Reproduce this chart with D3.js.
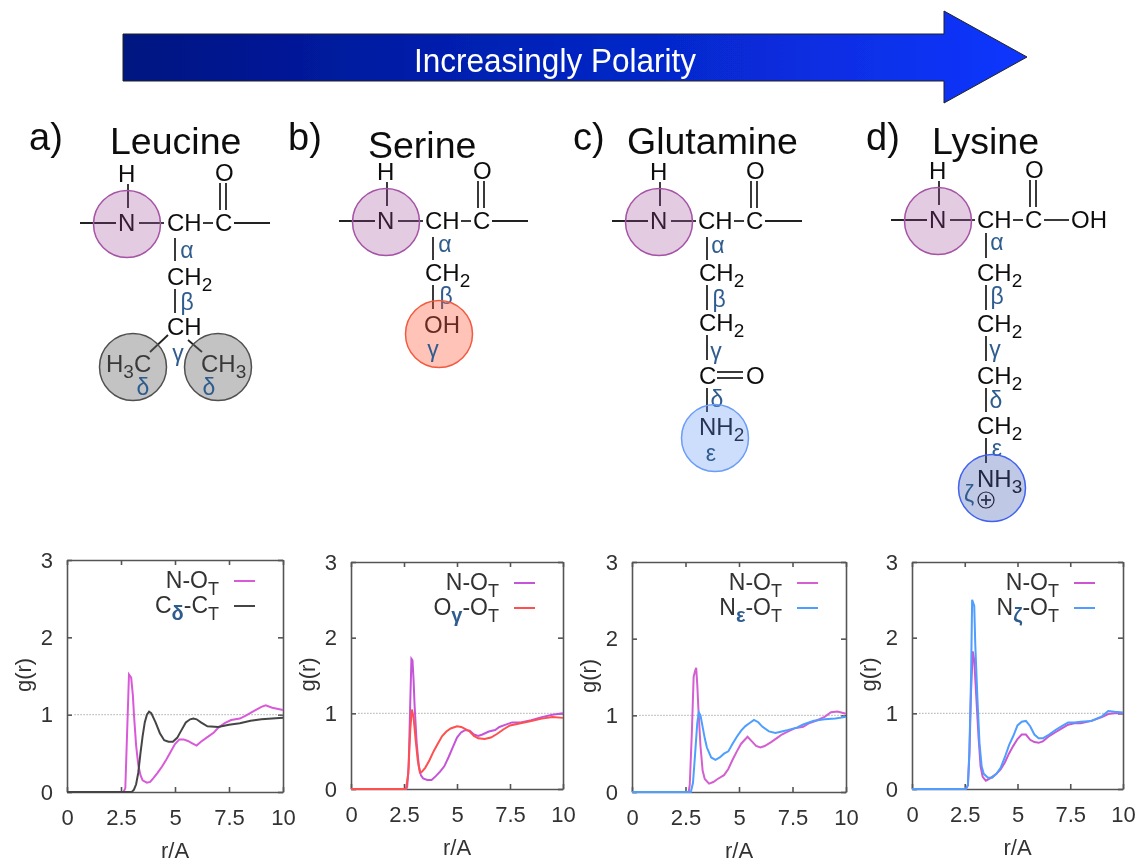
<!DOCTYPE html>
<html>
<head>
<meta charset="utf-8">
<script src="https://cdnjs.cloudflare.com/ajax/libs/d3/7.8.5/d3.min.js"></script>
<style>
html, body { margin: 0; padding: 0; background: #fff; }
text { font-family: "Liberation Sans", Arial, sans-serif; }
</style>
</head>
<body>
<svg id="fig" width="1143" height="864"></svg>
<script>
// g(r) curves, [r, g]
var leucineNOT = [[0,0],[2.62,0],[2.7,.05],[2.87,1.52],[2.97,1.48],[3.05,1.25],[3.1,1],[3.2,.6],[3.3,.35],[3.4,.22],[3.5,.15],[3.7,.12],[3.85,.13],[4,.18],[4.2,.25],[4.4,.33],[4.6,.42],[4.8,.52],[5,.62],[5.2,.68],[5.4,.68],[5.6,.66],[5.8,.63],[6,.6],[6.2,.65],[6.5,.71],[6.8,.77],[7,.83],[7.3,.89],[7.6,.93],[8,.95],[8.3,.99],[8.6,1.04],[9,1.1],[9.2,1.12],[9.5,1.09],[10,1.06]];
var leucineCC = [[0,0],[3,0],[3.1,.03],[3.2,.1],[3.3,.25],[3.4,.5],[3.5,.72],[3.6,.9],[3.7,1],[3.8,1.04],[3.9,1.02],[4.1,.9],[4.3,.76],[4.5,.67],[4.7,.65],[4.9,.65],[5.1,.7],[5.3,.8],[5.5,.9],[5.7,.94],[5.85,.95],[6,.94],[6.2,.9],[6.5,.85],[7,.84],[7.5,.87],[8,.89],[8.5,.92],[9,.94],[9.5,.95],[10,.96]];
var serineNOT = [[0,0],[2.6,0],[2.65,.03],[2.72,.3],[2.8,1.2],[2.85,1.72],[2.9,1.7],[2.95,1.45],[3,1.1],[3.1,.6],[3.2,.3],[3.3,.18],[3.4,.14],[3.6,.12],[3.8,.12],[4,.17],[4.2,.23],[4.4,.3],[4.6,.42],[4.8,.55],[5,.68],[5.2,.75],[5.4,.78],[5.6,.77],[5.8,.72],[6,.7],[6.2,.72],[6.5,.76],[6.8,.78],[7,.82],[7.3,.85],[7.6,.88],[8,.88],[8.5,.91],[9,.95],[9.5,.98],[10,1]];
var serineOO = [[0,0],[2.55,0],[2.6,.01],[2.7,.2],[2.8,.8],[2.87,1.05],[2.95,.95],[3.05,.65],[3.15,.38],[3.25,.22],[3.35,.23],[3.5,.28],[3.7,.38],[3.9,.5],[4.1,.6],[4.3,.7],[4.5,.76],[4.7,.8],[5,.83],[5.2,.82],[5.4,.79],[5.6,.76],[5.8,.7],[6,.67],[6.3,.66],[6.6,.68],[6.9,.73],[7.2,.79],[7.5,.84],[8,.87],[8.5,.9],[9,.93],[9.5,.95],[10,.94]];
var glutamineNOT = [[0,0],[2.65,0],[2.7,.1],[2.8,.8],[2.88,1.5],[2.95,1.58],[3,1.62],[3.05,1.4],[3.1,1.1],[3.2,.6],[3.3,.28],[3.4,.17],[3.6,.11],[3.8,.13],[4,.17],[4.3,.22],[4.5,.3],[4.7,.42],[4.9,.53],[5.1,.63],[5.4,.72],[5.6,.66],[5.8,.6],[6,.58],[6.2,.6],[6.5,.65],[6.8,.71],[7,.75],[7.3,.79],[7.6,.83],[8,.85],[8.3,.9],[8.6,.93],[9,.98],[9.3,1.04],[9.6,1.05],[10,1.02]];
var glutamineNO = [[0,0],[2.75,0],[2.85,.12],[2.95,.5],[3.05,.9],[3.12,1.04],[3.2,1],[3.3,.85],[3.4,.7],[3.5,.58],[3.7,.45],[3.9,.42],[4.1,.45],[4.3,.5],[4.5,.53],[4.7,.63],[4.9,.72],[5.1,.8],[5.3,.86],[5.5,.9],[5.7,.94],[5.9,.91],[6.1,.85],[6.4,.79],[6.7,.77],[7,.79],[7.3,.81],[7.7,.84],[8,.88],[8.5,.93],[9,.95],[9.5,.96],[10,.98]];
var lysineNOT = [[0,0],[2.55,0],[2.65,.05],[2.72,.45],[2.8,1.3],[2.88,1.82],[2.95,1.7],[3.05,1.2],[3.15,.7],[3.25,.3],[3.35,.16],[3.5,.11],[3.7,.14],[4,.2],[4.2,.26],[4.4,.35],[4.6,.47],[4.8,.57],[5,.66],[5.2,.72],[5.4,.72],[5.6,.65],[5.8,.62],[6,.61],[6.2,.63],[6.5,.7],[6.8,.75],[7.1,.8],[7.4,.85],[7.7,.87],[8,.87],[8.5,.9],[9,.95],[9.3,.99],[9.6,1],[10,1]];
var lysineNO = [[0,0],[2.55,0],[2.65,.05],[2.72,.5],[2.8,1.5],[2.85,2.5],[2.95,2.42],[3,1.9],[3.1,1.2],[3.2,.6],[3.3,.3],[3.4,.2],[3.6,.15],[3.8,.15],[4,.2],[4.2,.28],[4.4,.42],[4.6,.58],[4.8,.7],[5,.84],[5.2,.89],[5.4,.9],[5.6,.83],[5.8,.72],[6,.67],[6.2,.67],[6.5,.72],[6.8,.78],[7.1,.83],[7.4,.88],[7.7,.88],[8,.89],[8.5,.9],[9,.96],[9.3,1.03],[9.6,1.02],[10,1.01]];

var rTicks = [0, 2.5, 5, 7.5, 10];
var gTicks = [0, 1, 2, 3];
var unityLine = [[.35,1],[10,1]];

var panels = [
    {left: 67, right: 283, top: 560, bottom: 792, first: leucineNOT, second: leucineCC, c1: "#d95ad9", c2: "#454545", names: ["C", "δ", "-C"]},
    {left: 351, right: 563, top: 562, bottom: 789, first: serineNOT, second: serineOO, c1: "#c455d8", c2: "#ff4f4f", names: ["O", "γ", "-O"]},
    {left: 632, right: 846, top: 562, bottom: 792, first: glutamineNOT, second: glutamineNO, c1: "#d45fd0", c2: "#4d9fff", names: ["N", "ε", "-O"]},
    {left: 912, right: 1123, top: 562, bottom: 789, first: lysineNOT, second: lysineNO, c1: "#cc55d0", c2: "#4f9dff", names: ["N", "ζ", "-O"]}
];

var svg = d3.select("#fig");

// the source is a soft raster, a small blur gets the same look
svg.append("defs").append("filter").attr("id", "soft")
    .append("feGaussianBlur").attr("stdDeviation", 0.75);

var root = svg.append("g").attr("filter", "url(#soft)");

//arrow
var grad = svg.select("defs").append("linearGradient").attr("id", "arrowFill");
grad.append("stop").attr("offset", "0%").attr("stop-color", "#001280");
grad.append("stop").attr("offset", "100%").attr("stop-color", "#0a36ff");

root.append("path")
    .attr("d", "M123,34H944V11L1027,57L944,103V81H123Z")
    .attr("fill", "url(#arrowFill)")
    .attr("stroke", "#222")
    .attr("stroke-width", 1);

root.append("text")
    .attr("x", 555).attr("y", 72)
    .attr("text-anchor", "middle")
    .attr("font-size", 33)
    .attr("textLength", 282)
    .attr("lengthAdjust", "spacingAndGlyphs")
    .attr("fill", "#fff")
    .text("Increasingly Polarity");

//molecule helpers
var ink = "#111", greekInk = "#2f5c8f";

function bond(x1, y1, x2, y2) {
    root.append("line")
        .attr("x1", x1).attr("y1", y1).attr("x2", x2).attr("y2", y2)
        .attr("stroke", "#222").attr("stroke-width", 1.8);
}

// digits in a formula are set as subscripts
function atom(x, y, formula) {
    var t = root.append("text").attr("x", x).attr("y", y).attr("font-size", 24).attr("fill", ink);
    var wasSub = false;
    formula.split(/(\d)/).filter(function (s) { return s; }).forEach(function (s) {
        var isSub = /\d/.test(s);
        t.append("tspan")
            .attr("dy", isSub ? 6 : (wasSub ? -6 : 0))
            .attr("font-size", isSub ? 19 : 24)
            .text(s);
        wasSub = isSub;
    });
}

function greek(x, y, s) {
    root.append("text")
        .attr("x", x).attr("y", y)
        .attr("text-anchor", "middle")
        .attr("font-size", 23)
        .attr("fill", greekInk)
        .text(s);
}

function blob(cx, cy, fill, stroke, opacity) {
    root.append("circle")
        .attr("cx", cx).attr("cy", cy).attr("r", 33.5)
        .attr("fill", fill).attr("fill-opacity", opacity)
        .attr("stroke", stroke).attr("stroke-width", 1.5);
}

function title(labelX, label, nameX, nameY, name) {
    root.append("text").attr("x", labelX).attr("y", 150).attr("font-size", 38).attr("fill", ink).text(label);
    root.append("text").attr("x", nameX).attr("y", nameY).attr("font-size", 37.5).attr("fill", ink).text(name);
}

// N-H, CH-C=O part shared by all four residues, x0 is the N centre
function backbone(x0, y0, cx, tail) {
    atom(x0 - 9, y0 + 8, "N");
    atom(x0 - 9, y0 - 41, "H");
    atom(cx - 8, y0 + 8, "C");
    atom(cx - 56, y0 + 8, "CH");
    atom(cx - 8, y0 - 42, "O");
    bond(x0 - 47, y0, x0 - 11, y0);
    bond(x0 + 12, y0, x0 + 37, y0);
    bond(x0 + 1, y0 - 39, x0 + 1, y0 - 15);
    bond(cx - 20, y0, cx - 10, y0);
    bond(cx + 11, y0, tail, y0);
    bond(cx - 3, y0 - 40, cx - 3, y0 - 13);
    bond(cx + 3, y0 - 40, cx + 3, y0 - 13);
    blob(x0, y0 + 1, "#9c3f98", "#a552a5", 0.28);
}

//a) leucine
title(29, "a)", 110, 154, "Leucine");
backbone(127, 223, 223, 270);
bond(175, 238, 175, 261);
greek(187, 258, "α");
atom(167, 285, "CH2");
bond(175, 289, 175, 313);
greek(187, 310, "β");
atom(167, 335, "CH");
bond(168, 335, 150, 352);
bond(188, 340, 202, 352);
greek(178, 361, "γ");
atom(106, 372, "H3C");
atom(201, 372, "CH3");
blob(133, 367, "#6d6d6d", "#505050", 0.42);
blob(218, 367, "#6d6d6d", "#505050", 0.42);
greek(143, 395, "δ");
greek(209, 395, "δ");

//b) serine
title(288, "b)", 368, 158, "Serine");
backbone(386, 221, 481, 528);
bond(433, 237, 433, 260);
greek(445, 252, "α");
atom(425, 281, "CH2");
bond(433, 285, 433, 309);
greek(446, 304, "β");
atom(424, 333, "OH");
blob(439, 334, "#ff5a3c", "#f25a40", 0.36);
greek(433, 357, "γ");

//c) glutamine
title(573, "c)", 627, 154, "Glutamine");
backbone(659, 221, 754, 802);
bond(707, 237, 707, 260);
greek(718, 253, "α");
atom(699, 281, "CH2");
bond(707, 285, 707, 310);
greek(719, 307, "β");
atom(699, 331, "CH2");
bond(707, 335, 707, 360);
greek(716, 359, "γ");
atom(699, 384, "C");
bond(717, 372, 743, 372);
bond(717, 378, 743, 378);
atom(746, 384, "O");
bond(707, 388, 707, 412);
greek(717, 407, "δ");
atom(699, 435, "NH2");
blob(715, 438, "#5c8ff5", "#6b9df5", 0.3);
greek(711, 461, "ε");

//d) lysine
title(866, "d)", 932, 154, "Lysine");
backbone(938, 220, 1033, 1069);
atom(1071, 228, "OH");
bond(986, 233, 986, 258);
greek(997, 250, "α");
atom(977, 281, "CH2");
bond(986, 285, 986, 310);
greek(997, 304, "β");
atom(977, 332, "CH2");
bond(986, 336, 986, 361);
greek(995, 357, "γ");
atom(977, 384, "CH2");
bond(986, 388, 986, 412);
greek(996, 408, "δ");
atom(977, 434, "CH2");
bond(986, 438, 986, 463);
greek(997, 456, "ε");
atom(977, 487, "NH3");
root.append("circle")
    .attr("cx", 986).attr("cy", 500).attr("r", 8)
    .attr("fill", "none").attr("stroke", ink).attr("stroke-width", 1.2);
bond(981, 500, 991, 500);
bond(986, 495, 986, 505);
blob(992, 488, "#3f55ad", "#3f62ee", 0.33);
greek(969, 502, "ζ");

//legend text with subscripts
function legendText(x, y, parts) {
    var t = root.append("text")
        .attr("x", x).attr("y", y)
        .attr("text-anchor", "end")
        .attr("font-size", 23)
        .attr("fill", "#333");
    var low = false;
    parts.forEach(function (p) {
        var sp = t.append("tspan").text(p.text);
        sp.attr("dy", p.sub ? 7 : (low ? -7 : 0));
        sp.attr("font-size", p.sub ? 18 : 23);
        if (p.greek) {
            sp.attr("fill", greekInk).attr("font-weight", "bold").attr("font-size", 20);
        }
        low = !!p.sub;
    });
}

//g(r) panels
panels.forEach(function (p) {
    var x = d3.scaleLinear().domain([0, 10]).range([p.left, p.right]);
    var y = d3.scaleLinear().domain([0, 3]).range([p.bottom, p.top]);

    var line = d3.line()
        .x(function (d) { return x(d[0]); })
        .y(function (d) { return y(d[1]); });

    var g = root.append("g").attr("class", "panel");

    var bottomAxis = d3.axisBottom(x).tickValues(rTicks).tickFormat(d3.format("")).tickSize(-5).tickSizeOuter(0).tickPadding(17);
    var leftAxis = d3.axisLeft(y).tickValues(gTicks).tickFormat(d3.format("d")).tickSize(-5).tickSizeOuter(0).tickPadding(14);
    var topAxis = d3.axisTop(x).tickValues(rTicks).tickFormat("").tickSize(-5).tickSizeOuter(0);
    var rightAxis = d3.axisRight(y).tickValues(gTicks).tickFormat("").tickSize(-5).tickSizeOuter(0);

    g.append("g").attr("transform", "translate(0," + p.bottom + ")").call(bottomAxis);
    g.append("g").attr("transform", "translate(" + p.left + ",0)").call(leftAxis);
    g.append("g").attr("transform", "translate(0," + p.top + ")").call(topAxis);
    g.append("g").attr("transform", "translate(" + p.right + ",0)").call(rightAxis);

    g.selectAll("text").attr("font-size", 22).attr("font-family", "Liberation Sans").attr("fill", "#333");
    g.selectAll(".domain, .tick line").attr("stroke", "#555").attr("stroke-width", 1.6);

    g.append("path").attr("d", line(unityLine))
        .attr("fill", "none").attr("stroke", "#999").attr("stroke-width", 1.2).attr("stroke-dasharray", "1,2");

    g.append("path").attr("d", line(p.first))
        .attr("fill", "none").attr("stroke", p.c1).attr("stroke-width", 2);
    g.append("path").attr("d", line(p.second))
        .attr("fill", "none").attr("stroke", p.c2).attr("stroke-width", 2);

    // axis titles
    g.append("text")
        .attr("x", (p.left + p.right) / 2).attr("y", p.bottom + 66)
        .attr("text-anchor", "middle").attr("font-size", 22).attr("fill", "#333")
        .text("r/A");
    g.append("text")
        .attr("transform", "translate(" + (p.left - 36) + "," + ((p.top + p.bottom) / 2 - 1) + ") rotate(-90)")
        .attr("text-anchor", "middle").attr("font-size", 22).attr("fill", "#333")
        .text("g(r)");

    // legend
    var lineEnd = p.right - 28, lineStart = lineEnd - 21;
    legendText(lineStart - 15, p.top + 28, [{text: "N-O"}, {text: "T", sub: true}]);
    legendText(lineStart - 15, p.top + 53, [
        {text: p.names[0]},
        {text: p.names[1], sub: true, greek: true},
        {text: p.names[2]},
        {text: "T", sub: true}
    ]);
    g.append("line")
        .attr("x1", lineStart).attr("x2", lineEnd)
        .attr("y1", p.top + 21).attr("y2", p.top + 21)
        .attr("stroke", p.c1).attr("stroke-width", 2);
    g.append("line")
        .attr("x1", lineStart).attr("x2", lineEnd)
        .attr("y1", p.top + 46).attr("y2", p.top + 46)
        .attr("stroke", p.c2).attr("stroke-width", 2);
});
</script>
</body>
</html>
